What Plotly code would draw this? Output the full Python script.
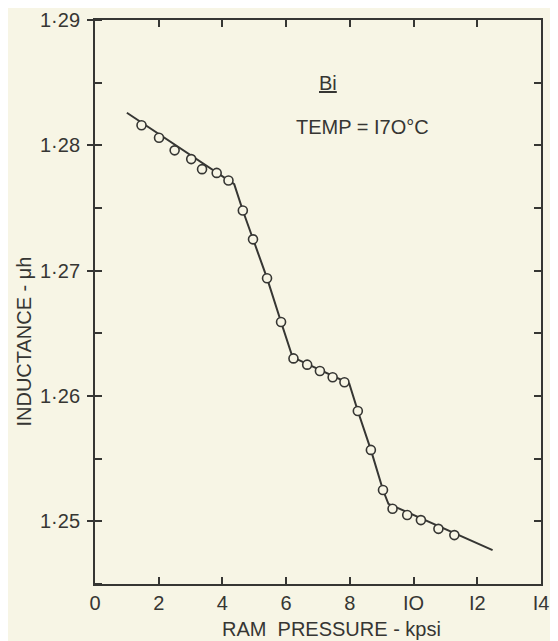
import plotly.graph_objects as go

# Measured data points (open circles)
pressure = [1.46, 2.01, 2.50, 3.02, 3.36, 3.82, 4.19, 4.64, 4.96, 5.40, 5.84, 6.23,
            6.66, 7.06, 7.46, 7.83, 8.25, 8.66, 9.04, 9.34, 9.80, 10.23, 10.78, 11.28]
inductance = [1.2816, 1.2806, 1.2796, 1.2789, 1.2781, 1.2778, 1.2772, 1.2748, 1.2725,
              1.2694, 1.2659, 1.2630, 1.2625, 1.2620, 1.2615, 1.2611, 1.2588, 1.2557,
              1.2525, 1.2510, 1.2505, 1.2501, 1.2494, 1.2489]

# Hand-drawn fitted curve
curve_x = [1.00, 4.37, 4.64, 4.96, 5.40, 5.84, 6.20, 7.98, 8.25, 8.66, 9.04, 9.21, 12.48]
curve_y = [1.2826, 1.2769, 1.2748, 1.2725, 1.2694, 1.2659, 1.2631, 1.2610, 1.2588,
           1.2557, 1.2525, 1.2514, 1.2477]

x_ticks = [0, 2, 4, 6, 8, 10, 12, 14]
x_ticktext = ["0", "2", "4", "6", "8", "IO", "I2", "I4"]
y_ticks = [1.25, 1.26, 1.27, 1.28, 1.29]
y_ticktext = ["1·25", "1·26", "1·27", "1·28", "1·29"]

INK = "#363633"
PAPER = "#f7f5e5"
FONT = "Liberation Sans"

fig = go.Figure()
fig.add_trace(go.Scatter(x=curve_x, y=curve_y, mode="lines",
                         line=dict(color=INK, width=2), showlegend=False,
                         hoverinfo="skip"))
fig.add_trace(go.Scatter(x=pressure, y=inductance, mode="markers",
                         marker=dict(symbol="circle", size=9, color=PAPER,
                                     line=dict(color=INK, width=1.6)),
                         showlegend=False))
# invisible trace to activate right-side axis
fig.add_trace(go.Scatter(x=[None], y=[None], yaxis="y2", showlegend=False))

fig.update_layout(
    template="none",
    width=550, height=633,
    margin=dict(l=87, r=17, t=12, b=57),
    paper_bgcolor=PAPER, plot_bgcolor=PAPER,
    font=dict(family=FONT, size=20, color=INK),
    xaxis=dict(range=[0, 14], tickvals=x_ticks, ticktext=x_ticktext,
               ticks="inside", ticklen=7, tickwidth=1.5, tickcolor=INK,
               showline=True, linecolor=INK, linewidth=2, mirror="ticks",
               showgrid=False, zeroline=False, ticklabelstandoff=0,
               automargin=False, ticklabeloverflow="allow"),
    yaxis=dict(range=[1.245, 1.29], tickvals=y_ticks, ticktext=y_ticktext,
               ticks="outside", ticklen=6, tickwidth=1.5, tickcolor=INK,
               minor=dict(dtick=0.005, tick0=1.245, ticks="inside", ticklen=7,
                          tickwidth=1.5, tickcolor=INK, showgrid=False),
               showline=True, linecolor=INK, linewidth=2,
               showgrid=False, zeroline=False, ticklabelstandoff=3,
               automargin=False, ticklabeloverflow="allow"),
    yaxis2=dict(range=[1.245, 1.29], overlaying="y", side="right",
                dtick=0.005, tick0=1.245, ticks="inside", ticklen=7, tickwidth=1.5,
                tickcolor=INK, showticklabels=False, showline=True,
                linecolor=INK, linewidth=2, showgrid=False, zeroline=False,
                automargin=False),
    annotations=[
        dict(text="INDUCTANCE - μh", xref="paper", yref="paper",
             x=-0.159, y=0.43, textangle=-90, showarrow=False,
             xanchor="center", yanchor="middle", font=dict(size=20)),
        dict(text="RAM\u00a0\u00a0PRESSURE - kpsi", xref="paper", yref="paper",
             x=0.53, y=-0.079, showarrow=False, xanchor="center",
             yanchor="middle", font=dict(size=20)),
        dict(text="<u>Bi</u>", xref="x", yref="y", x=7.3, y=1.2850,
             showarrow=False, xanchor="center", yanchor="middle",
             font=dict(size=20)),
        dict(text="TEMP = I7O°C", xref="x", yref="y", x=8.4, y=1.2815,
             showarrow=False, xanchor="center", yanchor="middle",
             font=dict(size=20)),
    ],
)

fig.write_html("out.html")
